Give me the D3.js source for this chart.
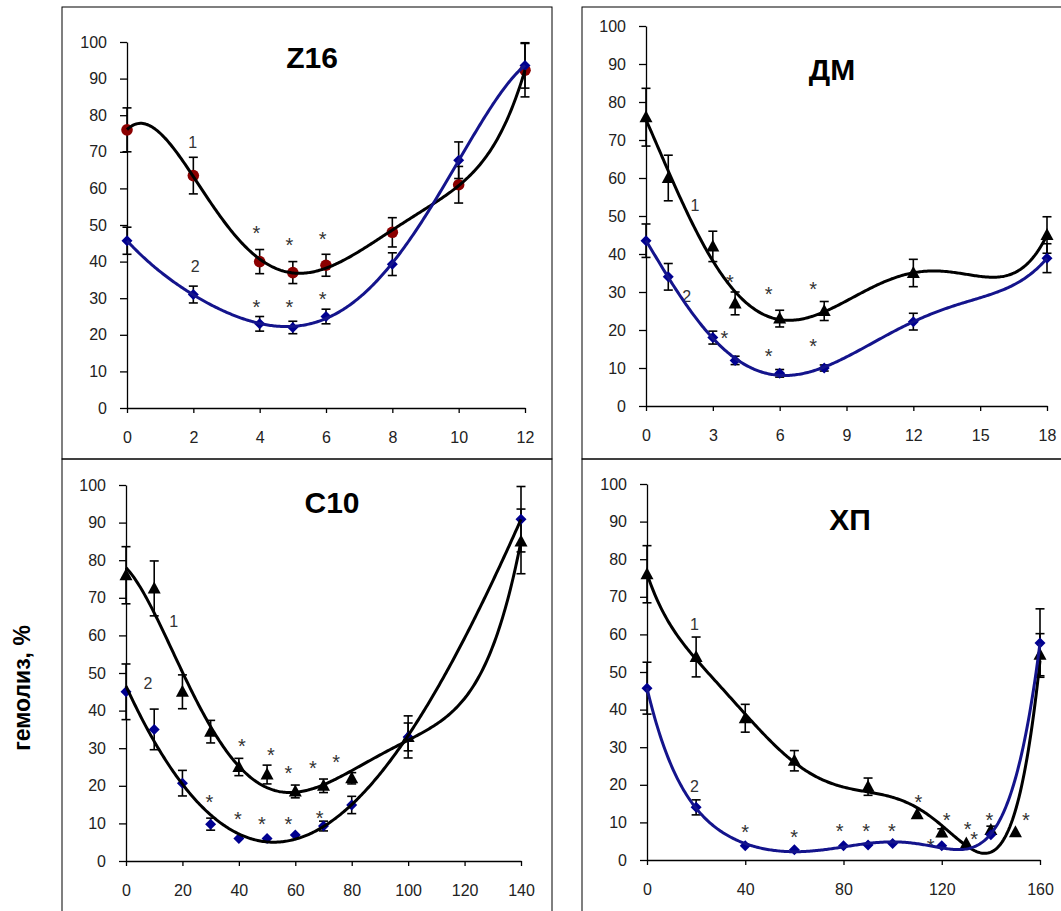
<!DOCTYPE html>
<html>
<head>
<meta charset="utf-8">
<script src="https://cdn.jsdelivr.net/npm/d3@7"></script>
<style>
  body { margin: 0; background: #fff; }
  text { font-family: "Liberation Sans", Arial, sans-serif; }
</style>
</head>
<body>
<div id="chart"></div>
<script>
// ---- data ----
// Z16
var z16X = [0, 2, 4, 5, 6, 8, 10, 12];
var z16Y1 = [76, 63.5, 40, 37, 39, 48, 61, 92.3];
var z16E1 = [6, 5, 3.3, 3, 3, 4, 5, 7.3];
var z16Y2 = [45.7, 31, 23, 22, 25, 39.3, 67.7, 93.6];
var z16E2 = [3.7, 2.3, 2, 1.7, 2, 3.1, 5, 6.2];
var z16Stars = [[3.9, 49], [4.9, 45.5], [5.9, 47.3], [3.9, 28.8], [4.9, 28.8], [5.9, 31]];
var z16Labels = [["1", 1.98, 72.7], ["2", 2.06, 38.8]];

// ДМ
var dmX = [0, 1, 3, 4, 6, 8, 12, 18];
var dmY1 = [76, 60, 42, 27, 23, 25, 35, 45];
var dmE1 = [7.6, 6, 4, 3, 2.2, 2.5, 3.6, 4.8];
var dmY2 = [43.5, 34, 18, 12, 8.6, 10, 22.2, 38.9];
var dmE2 = [4.4, 3.5, 1.7, 1.1, 1, 0.8, 2.2, 3.8];
var dmStars = [[3.77, 33.6], [5.5, 30.5], [7.5, 31.8], [3.52, 18.9], [5.5, 14.3], [7.5, 16.9]];
var dmLabels = [["1", 2.2, 52.9], ["2", 1.83, 28.8]];

// C10
var c10X = [0, 10, 20, 30, 40, 50, 60, 70, 80, 100, 140];
var c10Y1 = [76, 72.5, 45, 34.4, 25, 23, 18.5, 20, 22, 33, 85];
var c10E1 = [7.6, 7.3, 4.5, 3, 2.3, 2.5, 1.7, 1.8, 1.5, 5.6, 8.6];
var c10Y2 = [45, 35, 20.7, 9.8, 6, 6, 6.9, 9.3, 14.9, 33, 90.9];
var c10E2 = [7.4, 5.4, 3.4, 1.6, 0, 0, 0, 1.3, 2.3, 3.7, 8.7];
var c10Stars = [[41.1, 31.7], [51.4, 29.3], [57.6, 24.6], [66.2, 25.7], [74.5, 27.5],
                [29.6, 16.7], [39.7, 12.2], [48.2, 10.9], [57.6, 10.9], [68.6, 12.4]];
var c10Labels = [["1", 16.9, 63.7], ["2", 7.8, 47.3]];

// ХП
var xpX1 = [0, 20, 40, 60, 90, 110, 120, 130, 140, 150, 160];
var xpY1 = [76, 54, 37.7, 26.4, 19.5, 12.2, 7.3, 4.4, 8, 7.4, 54.6];
var xpE1 = [7.6, 5.3, 3.7, 2.7, 2.3, 0, 1, 0, 1, 0, 5.6];
var xpX2 = [0, 20, 40, 60, 80, 90, 100, 120, 140, 160];
var xpY2 = [45.7, 14, 3.8, 2.7, 3.8, 4, 4.4, 3.8, 6.7, 57.7];
var xpE2 = [6.9, 2, 0, 0, 0, 0, 0, 0, 0, 9.1];
var xpStars = [[40, 8.6], [59.9, 7.1], [78.4, 8.9], [89.2, 8.9], [99.7, 8.9], [110.5, 16.6],
               [122, 11.7], [115.5, 4.9], [130.5, 9.4], [133.2, 6.6], [139.4, 11.7], [154.3, 11.7]];
var xpLabels = [["1", 19.3, 62.7], ["2", 19.3, 19.7]];

var yTicks = d3.range(0, 101, 10);
var yLabel = "гемолиз, %";

// ---- styles ----
var darkRed = "#8b0000", navy = "#000090", blueLine = "#14148c";

function zip(xs, ys, es) {
  return xs.map(function (x, i) { return { x: x, y: ys[i], e: es[i] }; });
}

// order = degree of the polynomial trendline
var panels = [
  { title: "Z16", tx: 312, ty: 68, box: [62, 7, 552, 459],
    plot: { l: 127, r: 525, t: 42, b: 408 }, xMax: 12, xTicks: d3.range(0, 13, 2),
    series: [
      { data: zip(z16X, z16Y1, z16E1), marker: "circle", fill: darkRed, line: "#000", order: 5 },
      { data: zip(z16X, z16Y2, z16E2), marker: "diamond", fill: navy, line: blueLine, order: 5 }
    ], stars: z16Stars, labels: z16Labels },
  { title: "ДМ", tx: 832, ty: 80, box: [582, 7, 1080, 459],
    plot: { l: 646, r: 1047, t: 26, b: 406 }, xMax: 18, xTicks: d3.range(0, 19, 3),
    series: [
      { data: zip(dmX, dmY1, dmE1), marker: "triangle", fill: "#000", line: "#000", order: 5 },
      { data: zip(dmX, dmY2, dmE2), marker: "diamond", fill: navy, line: blueLine, order: 5 }
    ], stars: dmStars, labels: dmLabels },
  { title: "C10", tx: 332, ty: 513, box: [62, 459, 552, 930],
    plot: { l: 126, r: 521, t: 485, b: 861 }, xMax: 140, xTicks: d3.range(0, 141, 20),
    series: [
      { data: zip(c10X, c10Y1, c10E1), marker: "triangle", fill: "#000", line: "#000", order: 5 },
      { data: zip(c10X, c10Y2, c10E2), marker: "diamond", fill: navy, line: "#000", order: 4 }
    ], stars: c10Stars, labels: c10Labels },
  { title: "ХП", tx: 850, ty: 530, box: [582, 459, 1080, 930],
    plot: { l: 647, r: 1040, t: 484, b: 860 }, xMax: 160, xTicks: d3.range(0, 161, 40),
    series: [
      { data: zip(xpX1, xpY1, xpE1), marker: "triangle", fill: "#000", line: "#000", order: 6 },
      { data: zip(xpX2, xpY2, xpE2), marker: "diamond", fill: navy, line: blueLine, order: 6 }
    ], stars: xpStars, labels: xpLabels }
];

// least squares polynomial trendline (like Excel's)
function polyfit(pts, order, xMax) {
  var n = order + 1;
  var t = function (x) { return 2 * x / xMax - 1; };
  var A = d3.range(n).map(function () { return d3.range(n + 1).map(function () { return 0; }); });
  pts.forEach(function (p) {
    var tv = t(p.x);
    for (var i = 0; i < n; i++) {
      for (var j = 0; j < n; j++) A[i][j] += Math.pow(tv, i + j);
      A[i][n] += p.y * Math.pow(tv, i);
    }
  });
  for (var c = 0; c < n; c++) {
    var piv = c;
    for (var r = c + 1; r < n; r++) if (Math.abs(A[r][c]) > Math.abs(A[piv][c])) piv = r;
    var tmp = A[c]; A[c] = A[piv]; A[piv] = tmp;
    for (var r2 = 0; r2 < n; r2++) {
      if (r2 === c) continue;
      var f = A[r2][c] / A[c][c];
      for (var k = c; k <= n; k++) A[r2][k] -= f * A[c][k];
    }
  }
  var coef = A.map(function (row, i) { return row[n] / row[i]; });
  return function (x) {
    var tv = t(x), s = 0;
    for (var i = n - 1; i >= 0; i--) s = s * tv + coef[i];
    return s;
  };
}

var markerPath = {
  diamond: "M0,-5.5L5.5,0L0,5.5L-5.5,0Z",
  triangle: "M0,-7L6.5,5L-6.5,5Z"
};

var svg = d3.select("#chart").append("svg")
    .attr("width", 1061)
    .attr("height", 911);

svg.append("rect").attr("width", 1061).attr("height", 911).attr("fill", "#fff");

panels.forEach(function (p) {
  var g = svg.append("g");
  g.append("rect")
      .attr("x", p.box[0]).attr("y", p.box[1])
      .attr("width", p.box[2] - p.box[0]).attr("height", p.box[3] - p.box[1])
      .attr("fill", "none").attr("stroke", "#000").attr("stroke-width", 1);

  var x = d3.scaleLinear().domain([0, p.xMax]).range([p.plot.l, p.plot.r]);
  var y = d3.scaleLinear().domain([0, 100]).range([p.plot.b, p.plot.t]);

  var yAxis = g.append("g")
      .attr("transform", "translate(" + p.plot.l + ",0)")
      .call(d3.axisLeft(y).tickValues(yTicks).tickSize(7).tickPadding(13).tickSizeOuter(0));
  var xAxis = g.append("g")
      .attr("transform", "translate(0," + p.plot.b + ")")
      .call(d3.axisBottom(x).tickValues(p.xTicks).tickSize(5).tickPadding(19).tickSizeOuter(0));
  [yAxis, xAxis].forEach(function (a) {
    a.selectAll("path, line").attr("stroke", "#000").attr("stroke-width", 1.3);
    a.selectAll("text").attr("fill", "#222").style("font-size", "16px");
  });

  g.append("text")
      .attr("x", p.tx).attr("y", p.ty)
      .attr("text-anchor", "middle")
      .style("font-size", "30px").style("font-weight", "bold")
      .text(p.title);

  // significance stars and series numbers
  g.selectAll(".star").data(p.stars).enter().append("text")
      .attr("x", function (d) { return x(d[0]); })
      .attr("y", function (d) { return y(d[1]) + 11; })
      .attr("text-anchor", "middle")
      .attr("fill", "#333").style("font-size", "20px")
      .text("*");
  g.selectAll(".num").data(p.labels).enter().append("text")
      .attr("x", function (d) { return x(d[1]); })
      .attr("y", function (d) { return y(d[2]); })
      .attr("dy", "0.35em")
      .attr("text-anchor", "middle")
      .attr("fill", "#333").style("font-size", "16px")
      .text(function (d) { return d[0]; });

  p.series.forEach(function (s) {
    var eb = g.append("g");
    s.data.filter(function (d) { return d.e > 0; }).forEach(function (d) {
      var cx = x(d.x), y0 = y(d.y - d.e), y1 = y(d.y + d.e);
      eb.append("line").attr("x1", cx).attr("x2", cx).attr("y1", y0).attr("y2", y1);
      eb.append("line").attr("x1", cx - 4.5).attr("x2", cx + 4.5).attr("y1", y0).attr("y2", y0);
      eb.append("line").attr("x1", cx - 4.5).attr("x2", cx + 4.5).attr("y1", y1).attr("y2", y1);
    });
    eb.selectAll("line").attr("stroke", "#000").attr("stroke-width", 1.6);

    var mk = g.append("g");
    if (s.marker === "circle") {
      mk.selectAll("circle").data(s.data).enter().append("circle")
          .attr("cx", function (d) { return x(d.x); })
          .attr("cy", function (d) { return y(d.y); })
          .attr("r", 5.8).attr("fill", s.fill);
    } else {
      mk.selectAll("path").data(s.data).enter().append("path")
          .attr("transform", function (d) { return "translate(" + x(d.x) + "," + y(d.y) + ")"; })
          .attr("d", markerPath[s.marker]).attr("fill", s.fill);
    }
  });

  p.series.forEach(function (s) {
    var fit = polyfit(s.data, s.order, p.xMax);
    var xs = d3.range(0, p.xMax + 1e-9, p.xMax / 300);
    g.append("path")
        .datum(xs)
        .attr("fill", "none")
        .attr("stroke", s.line)
        .attr("stroke-width", 3)
        .attr("stroke-linejoin", "round")
        .attr("d", d3.line()
            .x(function (v) { return x(v); })
            .y(function (v) { return y(fit(v)); }));
  });
});

svg.append("text")
    .attr("transform", "translate(30,688) rotate(-90)")
    .attr("text-anchor", "middle")
    .style("font-size", "23px").style("font-weight", "bold")
    .text(yLabel);
</script>
</body>
</html>
